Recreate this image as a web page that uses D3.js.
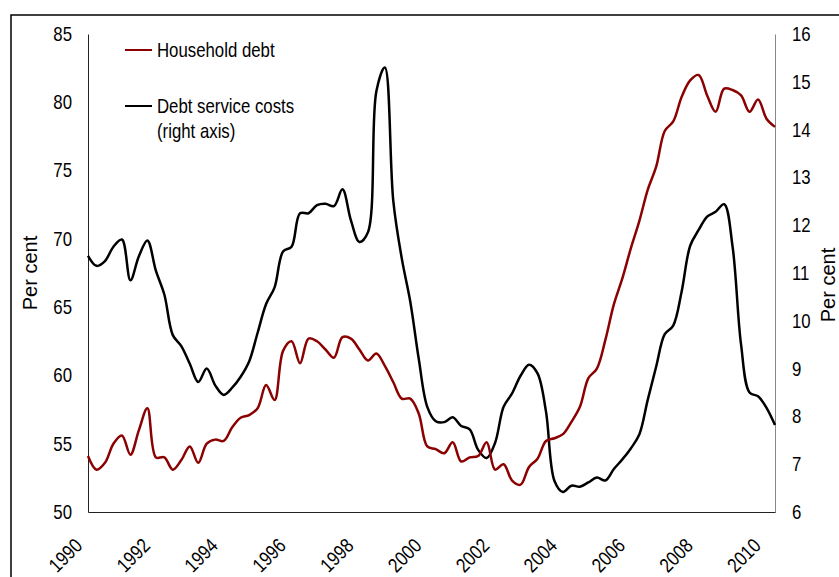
<!DOCTYPE html>
<html>
<head>
<meta charset="utf-8">
<script src="https://cdn.jsdelivr.net/npm/d3@7"></script>
<style>
  body { margin: 0; background: #fff; }
  svg { display: block; }
  text { font-family: "Liberation Sans", Arial, sans-serif; fill: #000; }
</style>
</head>
<body>
<div id="container"></div>
<script>
// quarterly observations, 1990Q1 .. 2010Q2
const startYear = 1990;
const householdDebt = [
  54.1, 53.1, 53.6, 55.0, 55.6, 54.2, 56.0, 57.6, 54.0, 54.0,
  53.1, 53.8, 54.8, 53.6, 55.0, 55.3, 55.2, 56.2, 56.9, 57.1,
  57.6, 59.3, 58.2, 61.8, 62.5, 60.9, 62.7, 62.5, 61.9, 61.3,
  62.8, 62.7, 61.9, 61.1, 61.6, 60.7, 59.5, 58.3, 58.3, 57.2,
  54.8, 54.6, 54.3, 55.1, 53.7, 54.0, 54.1, 55.1, 53.1, 53.5,
  52.3, 52.0, 53.3, 53.9, 55.2, 55.4, 55.7, 56.6, 57.7, 59.8,
  60.5, 62.6, 65.2, 67.1, 69.3, 71.3, 73.6, 75.3, 77.9, 78.6,
  80.4, 81.6, 82.0, 80.5, 79.3, 81.0, 80.9, 80.5, 79.3, 80.2,
  78.8, 78.2
];
const debtService = [
  11.36, 11.15, 11.25, 11.55, 11.70, 10.85, 11.35, 11.68, 11.05, 10.55,
  9.70, 9.47, 9.10, 8.72, 9.00, 8.65, 8.45, 8.60, 8.83, 9.15,
  9.75, 10.35, 10.70, 11.45, 11.55, 12.25, 12.25, 12.42, 12.45, 12.40,
  12.75, 12.10, 11.65, 11.85, 14.8, 15.3, 12.5, 11.3, 10.4, 9.2,
  8.2, 7.90, 7.88, 7.98, 7.80, 7.73, 7.30, 7.13, 7.45, 8.20,
  8.48, 8.85, 9.08, 8.90, 8.10, 6.65, 6.42, 6.55, 6.53, 6.62,
  6.72, 6.66, 6.90, 7.10, 7.33, 7.62, 8.35, 9.05, 9.72, 9.90,
  10.62, 11.57, 11.90, 12.18, 12.28, 12.44, 11.55, 9.50, 8.50, 8.42,
  8.18, 7.82
];
const yearTicks = [1990, 1992, 1994, 1996, 1998, 2000, 2002, 2004, 2006, 2008, 2010];
const leftTicks = [50, 55, 60, 65, 70, 75, 80, 85];
const rightTicks = [6, 7, 8, 9, 10, 11, 12, 13, 14, 15, 16];
const legendItems = [
  { label: ["Household debt"], color: "#8b0000" },
  { label: ["Debt service costs", "(right axis)"], color: "#000" }
];

const width = 839, height = 577;
const plotLeft = 88, plotRight = 775, plotTop = 34, plotBottom = 512;
const narrow = 0.84; // squeeze to imitate a narrow face

const svg = d3.select("#container").append("svg")
  .attr("width", width)
  .attr("height", height);

// outer frame (cut by the window)
svg.append("rect")
  .attr("x", 11).attr("y", 15)
  .attr("width", 900).attr("height", 700)
  .attr("fill", "none")
  .attr("stroke", "#000")
  .attr("stroke-width", 1.5);

const lastT = startYear + (householdDebt.length - 1) / 4;
const x = d3.scaleLinear().domain([startYear, lastT]).range([plotLeft, plotRight]);
const yL = d3.scaleLinear().domain([50, 85]).range([plotBottom, plotTop]);
const yR = d3.scaleLinear().domain([6, 16]).range([plotBottom, plotTop]);

// left axis
const gL = svg.append("g")
  .attr("transform", `translate(${plotLeft},0)`)
  .call(d3.axisLeft(yL).tickValues(leftTicks).tickSize(0).tickPadding(16 / narrow));
gL.select(".domain").attr("stroke", "#222");
gL.selectAll("text").style("font-size", "20px").attr("transform", `scale(${narrow},1)`);

// right axis
const gR = svg.append("g")
  .attr("transform", `translate(${plotRight},0)`)
  .call(d3.axisRight(yR).tickValues(rightTicks).tickSize(0).tickPadding(17 / narrow));
gR.select(".domain").attr("stroke", "#888");
gR.selectAll("text").style("font-size", "20px").attr("transform", `scale(${narrow},1)`);

// bottom axis
const gB = svg.append("g")
  .attr("transform", `translate(0,${plotBottom})`)
  .call(d3.axisBottom(x).tickValues(yearTicks).tickSize(0).tickFormat(d3.format("d")));
gB.select(".domain").attr("stroke", "#222");
gB.selectAll(".tick text")
  .attr("text-anchor", "end")
  .attr("dy", null).attr("y", null)
  .attr("transform", `translate(-5,35) rotate(-45) scale(${narrow},1)`)
  .style("font-size", "20px");

// axis titles
svg.append("text")
  .attr("transform", "translate(37,273) rotate(-90)")
  .attr("text-anchor", "middle")
  .style("font-size", "20px")
  .text("Per cent");
svg.append("text")
  .attr("transform", "translate(835,285) rotate(-90)")
  .attr("text-anchor", "middle")
  .style("font-size", "20px")
  .text("Per cent");

// lines
const t = i => startYear + i / 4;
const lineL = d3.line().x((d, i) => x(t(i))).y(d => yL(d)).curve(d3.curveCatmullRom.alpha(0.5));
const lineR = d3.line().x((d, i) => x(t(i))).y(d => yR(d)).curve(d3.curveCatmullRom.alpha(0.5));

svg.append("path")
  .datum(debtService)
  .attr("d", lineR)
  .attr("fill", "none")
  .attr("stroke", "#000")
  .attr("stroke-width", 2.5);

svg.append("path")
  .datum(householdDebt)
  .attr("d", lineL)
  .attr("fill", "none")
  .attr("stroke", "#8b0000")
  .attr("stroke-width", 2.5);

// legend
const legendY = [50, 106];
legendItems.forEach((item, k) => {
  const g = svg.append("g").attr("transform", `translate(125,${legendY[k]})`);
  g.append("line")
    .attr("x1", 0).attr("x2", 27)
    .attr("stroke", item.color).attr("stroke-width", 2);
  item.label.forEach((s, j) => {
    g.append("text")
      .attr("transform", `translate(32,${j * 25}) scale(${narrow},1)`)
      .attr("dy", "0.35em")
      .style("font-size", "20px")
      .text(s);
  });
});
</script>
</body>
</html>
